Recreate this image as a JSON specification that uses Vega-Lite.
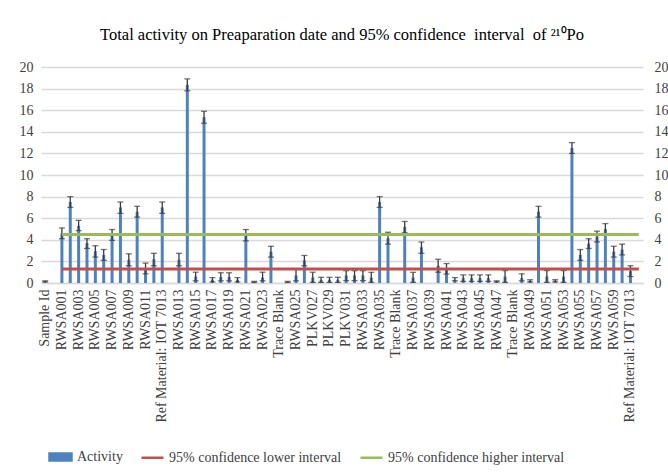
{
  "$schema": "https://vega.github.io/schema/vega-lite/v6.json",
  "width": 602,
  "height": 216,
  "autosize": {"type": "none"},
  "padding": {"left": 41, "top": 67, "right": 25, "bottom": 193},
  "background": "white",
  "title": {
    "text": "Total activity on Preaparation date and 95% confidence\u00a0 interval\u00a0 of ²¹⁰Po",
    "font": "Liberation Serif",
    "fontSize": 16.5,
    "fontWeight": "normal",
    "color": "#000000",
    "anchor": "middle",
    "frame": "group",
    "baseline": "alphabetic",
    "offset": 4
  },
  "config": {
    "font": "Liberation Serif",
    "view": {"stroke": null},
    "axis": {"labelFont": "Liberation Serif", "labelColor": "#404040"},
    "legend": {"labelFont": "Liberation Serif", "labelFontSize": 14, "labelLimit": 300, "labelColor": "#404040"}
  },
  "data": {
    "values": [
      {"cat": "Sample Id", "activity": 0.15, "lo": 0.1, "hi": 0.2},
      {"cat": "x01"},
      {"cat": "RWSA001", "activity": 4.6, "lo": 4.1, "hi": 5.1},
      {"cat": "RWSA002", "activity": 7.5, "lo": 7.0, "hi": 8.0},
      {"cat": "RWSA003", "activity": 5.3, "lo": 4.85, "hi": 5.8},
      {"cat": "RWSA004", "activity": 3.7, "lo": 3.2, "hi": 4.1},
      {"cat": "RWSA005", "activity": 2.95, "lo": 2.4, "hi": 3.45},
      {"cat": "RWSA006", "activity": 2.6, "lo": 2.1, "hi": 3.1},
      {"cat": "RWSA007", "activity": 4.45, "lo": 3.95, "hi": 4.95},
      {"cat": "RWSA008", "activity": 7.0, "lo": 6.45, "hi": 7.5},
      {"cat": "RWSA009", "activity": 2.15, "lo": 1.6, "hi": 2.7},
      {"cat": "RWSA010", "activity": 6.6, "lo": 6.1, "hi": 7.1},
      {"cat": "RWSA011", "activity": 1.35, "lo": 0.85, "hi": 1.85},
      {"cat": "RWSA012", "activity": 2.2, "lo": 1.6, "hi": 2.75},
      {"cat": "Ref Material: IOT 7013", "activity": 7.0, "lo": 6.45, "hi": 7.5},
      {"cat": "x15"},
      {"cat": "RWSA013", "activity": 2.15, "lo": 1.6, "hi": 2.75},
      {"cat": "RWSA014", "activity": 18.35, "lo": 17.8, "hi": 18.9},
      {"cat": "RWSA015", "activity": 0.6, "lo": 0.2, "hi": 1.0},
      {"cat": "RWSA016", "activity": 15.35, "lo": 14.8, "hi": 15.9},
      {"cat": "RWSA017", "activity": 0.3, "lo": 0.1, "hi": 0.5},
      {"cat": "RWSA018", "activity": 0.55, "lo": 0.2, "hi": 0.95},
      {"cat": "RWSA019", "activity": 0.55, "lo": 0.2, "hi": 0.95},
      {"cat": "RWSA020", "activity": 0.3, "lo": 0.1, "hi": 0.5},
      {"cat": "RWSA021", "activity": 4.4, "lo": 3.9, "hi": 4.95},
      {"cat": "RWSA022", "activity": 0.1, "lo": 0.05, "hi": 0.15},
      {"cat": "RWSA023", "activity": 0.5, "lo": 0.2, "hi": 1.0},
      {"cat": "RWSA024", "activity": 2.9, "lo": 2.4, "hi": 3.4},
      {"cat": "Trace Blank"},
      {"cat": "x29", "activity": 0.1, "lo": 0.05, "hi": 0.15},
      {"cat": "RWSA025", "activity": 0.7, "lo": 0.2, "hi": 1.3},
      {"cat": "RWSA026", "activity": 2.1, "lo": 1.6, "hi": 2.55},
      {"cat": "PLKV027", "activity": 0.5, "lo": 0.06, "hi": 1.0},
      {"cat": "PLKV028", "activity": 0.3, "lo": 0.06, "hi": 0.53},
      {"cat": "PLKV029", "activity": 0.3, "lo": 0.06, "hi": 0.53},
      {"cat": "PLKV030", "activity": 0.3, "lo": 0.06, "hi": 0.53},
      {"cat": "PLKV031", "activity": 0.7, "lo": 0.22, "hi": 1.14},
      {"cat": "PLKV032", "activity": 0.7, "lo": 0.22, "hi": 1.14},
      {"cat": "RWSA033", "activity": 0.7, "lo": 0.22, "hi": 1.14},
      {"cat": "RWSA034", "activity": 0.5, "lo": 0.06, "hi": 0.99},
      {"cat": "RWSA035", "activity": 7.5, "lo": 7.0, "hi": 8.0},
      {"cat": "RWSA036", "activity": 4.15, "lo": 3.6, "hi": 4.7},
      {"cat": "Trace Blank|2"},
      {"cat": "x43", "activity": 5.2, "lo": 4.65, "hi": 5.7},
      {"cat": "RWSA037", "activity": 0.5, "lo": 0.06, "hi": 0.99},
      {"cat": "x45", "activity": 3.3, "lo": 2.75, "hi": 3.8},
      {"cat": "RWSA039"},
      {"cat": "x47", "activity": 1.6, "lo": 1.0, "hi": 2.2},
      {"cat": "RWSA041", "activity": 1.3, "lo": 0.83, "hi": 1.8},
      {"cat": "x49", "activity": 0.3, "lo": 0.2, "hi": 0.5},
      {"cat": "RWSA043", "activity": 0.45, "lo": 0.15, "hi": 0.75},
      {"cat": "x51", "activity": 0.45, "lo": 0.15, "hi": 0.75},
      {"cat": "RWSA045", "activity": 0.45, "lo": 0.15, "hi": 0.75},
      {"cat": "x53", "activity": 0.45, "lo": 0.15, "hi": 0.75},
      {"cat": "RWSA047", "activity": 0.15, "lo": 0.1, "hi": 0.2},
      {"cat": "x55", "activity": 0.6, "lo": 0.06, "hi": 1.15},
      {"cat": "Trace Blank|3"},
      {"cat": "x57", "activity": 0.45, "lo": 0.2, "hi": 0.85},
      {"cat": "RWSA049", "activity": 0.2, "lo": 0.1, "hi": 0.3},
      {"cat": "x59", "activity": 6.6, "lo": 6.1, "hi": 7.1},
      {"cat": "RWSA051", "activity": 0.6, "lo": 0.06, "hi": 1.15},
      {"cat": "x61", "activity": 0.2, "lo": 0.1, "hi": 0.3},
      {"cat": "RWSA053", "activity": 0.6, "lo": 0.06, "hi": 1.15},
      {"cat": "x63", "activity": 12.5, "lo": 12.0, "hi": 13.0},
      {"cat": "RWSA055", "activity": 2.6, "lo": 2.1, "hi": 3.1},
      {"cat": "x65", "activity": 3.65, "lo": 3.2, "hi": 4.1},
      {"cat": "RWSA057", "activity": 4.3, "lo": 3.8, "hi": 4.8},
      {"cat": "x67", "activity": 5.0, "lo": 4.5, "hi": 5.5},
      {"cat": "RWSA059", "activity": 2.9, "lo": 2.4, "hi": 3.4},
      {"cat": "x69", "activity": 3.1, "lo": 2.6, "hi": 3.6},
      {"cat": "Ref Material: IOT 7013|2", "activity": 1.1, "lo": 0.6, "hi": 1.6},
      {"cat": "x71"}
    ]
  },
  "layer": [
    {
      "mark": {"type": "bar", "size": 3},
      "encoding": {
        "x": {
          "field": "cat",
          "type": "nominal",
          "scale": {
            "paddingInner": 0,
            "paddingOuter": 0,
            "domain": ["Sample Id","x01","RWSA001","RWSA002","RWSA003","RWSA004","RWSA005","RWSA006","RWSA007","RWSA008","RWSA009","RWSA010","RWSA011","RWSA012","Ref Material: IOT 7013","x15","RWSA013","RWSA014","RWSA015","RWSA016","RWSA017","RWSA018","RWSA019","RWSA020","RWSA021","RWSA022","RWSA023","RWSA024","Trace Blank","x29","RWSA025","RWSA026","PLKV027","PLKV028","PLKV029","PLKV030","PLKV031","PLKV032","RWSA033","RWSA034","RWSA035","RWSA036","Trace Blank|2","x43","RWSA037","x45","RWSA039","x47","RWSA041","x49","RWSA043","x51","RWSA045","x53","RWSA047","x55","Trace Blank|3","x57","RWSA049","x59","RWSA051","x61","RWSA053","x63","RWSA055","x65","RWSA057","x67","RWSA059","x69","Ref Material: IOT 7013|2","x71"]
          },
          "axis": {
            "title": null,
            "values": ["Sample Id","RWSA001","RWSA003","RWSA005","RWSA007","RWSA009","RWSA011","Ref Material: IOT 7013","RWSA013","RWSA015","RWSA017","RWSA019","RWSA021","RWSA023","Trace Blank","RWSA025","PLKV027","PLKV029","PLKV031","RWSA033","RWSA035","Trace Blank|2","RWSA037","RWSA039","RWSA041","RWSA043","RWSA045","RWSA047","Trace Blank|3","RWSA049","RWSA051","RWSA053","RWSA055","RWSA057","RWSA059","Ref Material: IOT 7013|2"],
            "labelExpr": "indexof(datum.label, '|') > 0 ? substring(datum.label, 0, indexof(datum.label, '|')) : datum.label",
            "labelAngle": -90,
            "labelFontSize": 14,
            "labelPadding": 6,
            "labelOverlap": false,
            "labelLimit": 300,
            "ticks": false,
            "domain": true,
            "domainColor": "#d9d9d9",
            "domainWidth": 1.3,
            "grid": false
          }
        },
        "y": {
          "field": "activity",
          "type": "quantitative",
          "scale": {"domain": [0, 20], "nice": false},
          "axis": {
            "title": null,
            "orient": "left",
            "values": [0, 2, 4, 6, 8, 10, 12, 14, 16, 18, 20],
            "labelFontSize": 14,
            "labelPadding": 8,
            "ticks": false,
            "domain": false,
            "grid": true,
            "gridColor": "#d9d9d9",
            "gridWidth": 1.3
          }
        },
        "color": {
          "datum": "Activity",
          "type": "nominal",
          "scale": {
            "domain": ["Activity", "95% confidence lower interval", "95% confidence higher interval"],
            "range": ["#4F81BD", "#C0504D", "#9BBB59"]
          },
          "legend": {
            "title": null,
            "orient": "none",
            "legendX": 7,
            "legendY": 377,
            "direction": "horizontal",
            "padding": 0,
            "symbolSize": 484,
            "labelOffset": 4,
            "columnPadding": 13,
            "labelFont": "Liberation Serif",
            "labelFontSize": 14,
            "labelLimit": 300,
            "labelColor": "#404040",
            "encode": {
              "labels": {
                "update": {"font": {"value": "Liberation Serif"}}
              },
              "symbols": {
                "update": {
                  "shape": {"signal": "datum.value === 'Activity' ? 'M-1,-0.32H1V0.32H-1Z' : 'M-1,0H1'"},
                  "fill": {"signal": "datum.value === 'Activity' ? '#4F81BD' : 'transparent'"},
                  "stroke": {"signal": "datum.value === 'Activity' ? 'transparent' : (datum.value === '95% confidence lower interval' ? '#C0504D' : '#9BBB59')"},
                  "strokeWidth": {"value": 2.5},
                  "opacity": {"value": 1}
                }
              }
            }
          }
        }
      }
    },
    {
      "mark": {"type": "rule", "color": "#3a3a3a", "strokeWidth": 1.3},
      "encoding": {
        "x": {"field": "cat", "type": "nominal"},
        "y": {"field": "lo", "type": "quantitative", "axis": null},
        "y2": {"field": "hi"}
      }
    },
    {
      "mark": {"type": "tick", "color": "#3a3a3a", "size": 6, "thickness": 1.3},
      "encoding": {
        "x": {"field": "cat", "type": "nominal"},
        "y": {"field": "hi", "type": "quantitative", "axis": null}
      }
    },
    {
      "mark": {"type": "tick", "color": "#3a3a3a", "size": 6, "thickness": 1.3},
      "encoding": {
        "x": {"field": "cat", "type": "nominal"},
        "y": {"field": "lo", "type": "quantitative", "axis": null}
      }
    },
    {
      "data": {
        "values": [
          {"series": "95% confidence lower interval", "level": 1.3, "from": "RWSA001", "to": "x71"},
          {"series": "95% confidence higher interval", "level": 4.5, "from": "RWSA001", "to": "x71"}
        ]
      },
      "mark": {"type": "rule", "strokeWidth": 3},
      "encoding": {
        "x": {"field": "from", "type": "nominal"},
        "x2": {"field": "to"},
        "y": {
          "field": "level",
          "type": "quantitative",
          "axis": {
            "title": null,
            "orient": "right",
            "values": [0, 2, 4, 6, 8, 10, 12, 14, 16, 18, 20],
            "labelFontSize": 14,
            "labelPadding": 11,
            "ticks": false,
            "domain": false,
            "grid": false
          }
        },
        "color": {
          "field": "series",
          "type": "nominal",
          "legend": {
            "title": null,
            "orient": "none",
            "legendX": 7,
            "legendY": 377,
            "direction": "horizontal",
            "padding": 0,
            "symbolSize": 484,
            "labelOffset": 4,
            "columnPadding": 13,
            "labelFont": "Liberation Serif",
            "labelFontSize": 14,
            "labelLimit": 300,
            "labelColor": "#404040",
            "encode": {
              "labels": {
                "update": {"font": {"value": "Liberation Serif"}}
              },
              "symbols": {
                "update": {
                  "shape": {"signal": "datum.value === 'Activity' ? 'M-1,-0.32H1V0.32H-1Z' : 'M-1,0H1'"},
                  "fill": {"signal": "datum.value === 'Activity' ? '#4F81BD' : 'transparent'"},
                  "stroke": {"signal": "datum.value === 'Activity' ? 'transparent' : (datum.value === '95% confidence lower interval' ? '#C0504D' : '#9BBB59')"},
                  "strokeWidth": {"value": 2.5},
                  "opacity": {"value": 1}
                }
              }
            }
          }
        }
      }
    }
  ],
  "resolve": {"axis": {"y": "independent"}}
}
